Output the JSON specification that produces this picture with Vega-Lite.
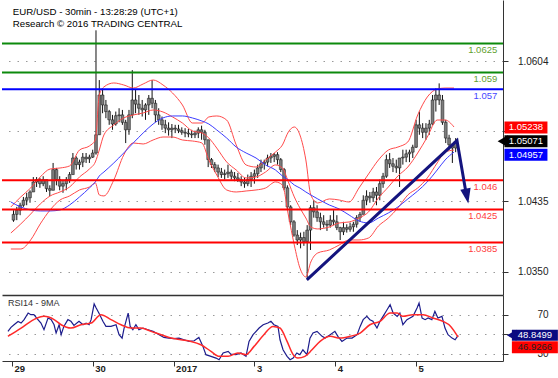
{
"$schema": "https://vega.github.io/schema/vega-lite/v6.json",
"background": "white",
"padding": {"left": 1, "top": 0, "right": 0, "bottom": 0},
"spacing": 0,
"config": {
 "font": "Liberation Sans",
 "view": {"stroke": null}
},
"datasets": {
 "candles": [
  {"h":-1,"o":1.0412,"hi":1.0424,"lo":1.0410,"c":1.0419},{"h":0,"o":1.0419,"hi":1.0428,"lo":1.0412,"c":1.0424},{"h":1,"o":1.0424,"hi":1.0433,"lo":1.0418,"c":1.0430},{"h":2,"o":1.0430,"hi":1.0440,"lo":1.0428,"c":1.0436},{"h":3,"o":1.0436,"hi":1.0445,"lo":1.0430,"c":1.0439},{"h":4,"o":1.0439,"hi":1.0448,"lo":1.0433,"c":1.0446},{"h":5,"o":1.0446,"hi":1.0464,"lo":1.0446,"c":1.0458},{"h":6,"o":1.0458,"hi":1.0464,"lo":1.0452,"c":1.0461},{"h":7,"o":1.0461,"hi":1.0463,"lo":1.0451,"c":1.0456},{"h":8,"o":1.0456,"hi":1.0465,"lo":1.0453,"c":1.0461},
  {"h":9,"o":1.0461,"hi":1.0461,"lo":1.0446,"c":1.0450},{"h":10,"o":1.0450,"hi":1.0454,"lo":1.0441,"c":1.0448},{"h":11,"o":1.0448,"hi":1.0481,"lo":1.0448,"c":1.0473},{"h":12,"o":1.0473,"hi":1.0475,"lo":1.0454,"c":1.0461},{"h":13,"o":1.0461,"hi":1.0465,"lo":1.0448,"c":1.0453},{"h":14,"o":1.0453,"hi":1.0461,"lo":1.0445,"c":1.0456},{"h":15,"o":1.0456,"hi":1.0464,"lo":1.0448,"c":1.0461},{"h":16,"o":1.0461,"hi":1.0470,"lo":1.0457,"c":1.0467},{"h":17,"o":1.0467,"hi":1.0493,"lo":1.0467,"c":1.0487},{"h":18,"o":1.0487,"hi":1.0489,"lo":1.0473,"c":1.0479},
  {"h":19,"o":1.0479,"hi":1.0485,"lo":1.0473,"c":1.0482},{"h":20,"o":1.0482,"hi":1.0493,"lo":1.0476,"c":1.0488},{"h":21,"o":1.0488,"hi":1.0493,"lo":1.0481,"c":1.0486},{"h":22,"o":1.0486,"hi":1.0491,"lo":1.0481,"c":1.0488},{"h":23,"o":1.0488,"hi":1.0497,"lo":1.0487,"c":1.0493},{"h":24,"o":1.0493,"hi":1.0641,"lo":1.0491,"c":1.0515},{"h":25,"o":1.0515,"hi":1.0581,"lo":1.0515,"c":1.0563},{"h":26,"o":1.0563,"hi":1.0571,"lo":1.0541,"c":1.0551},{"h":27,"o":1.0551,"hi":1.0557,"lo":1.0535,"c":1.0543},{"h":28,"o":1.0543,"hi":1.0545,"lo":1.0527,"c":1.0533},
  {"h":29,"o":1.0533,"hi":1.0539,"lo":1.0521,"c":1.0528},{"h":30,"o":1.0528,"hi":1.0543,"lo":1.0526,"c":1.0538},{"h":31,"o":1.0538,"hi":1.0547,"lo":1.0530,"c":1.0539},{"h":32,"o":1.0539,"hi":1.0545,"lo":1.0527,"c":1.0530},{"h":33,"o":1.0530,"hi":1.0533,"lo":1.0505,"c":1.0521},{"h":34,"o":1.0521,"hi":1.0545,"lo":1.0515,"c":1.0539},{"h":35,"o":1.0539,"hi":1.0593,"lo":1.0535,"c":1.0557},{"h":36,"o":1.0557,"hi":1.0569,"lo":1.0541,"c":1.0552},{"h":37,"o":1.0552,"hi":1.0563,"lo":1.0539,"c":1.0547},{"h":38,"o":1.0547,"hi":1.0557,"lo":1.0537,"c":1.0545},
  {"h":39,"o":1.0545,"hi":1.0553,"lo":1.0533,"c":1.0551},{"h":40,"o":1.0551,"hi":1.0563,"lo":1.0539,"c":1.0559},{"h":41,"o":1.0559,"hi":1.0581,"lo":1.0547,"c":1.0553},{"h":42,"o":1.0553,"hi":1.0557,"lo":1.0530,"c":1.0539},{"h":43,"o":1.0539,"hi":1.0547,"lo":1.0527,"c":1.0533},{"h":44,"o":1.0533,"hi":1.0537,"lo":1.0521,"c":1.0527},{"h":45,"o":1.0527,"hi":1.0533,"lo":1.0517,"c":1.0523},{"h":46,"o":1.0523,"hi":1.0530,"lo":1.0514,"c":1.0521},{"h":47,"o":1.0521,"hi":1.0528,"lo":1.0511,"c":1.0523},{"h":48,"o":1.0523,"hi":1.0527,"lo":1.0517,"c":1.0522},
  {"h":49,"o":1.0522,"hi":1.0527,"lo":1.0517,"c":1.0520},{"h":50,"o":1.0520,"hi":1.0524,"lo":1.0515,"c":1.0518},{"h":51,"o":1.0518,"hi":1.0523,"lo":1.0512,"c":1.0517},{"h":52,"o":1.0517,"hi":1.0522,"lo":1.0512,"c":1.0516},{"h":53,"o":1.0516,"hi":1.0521,"lo":1.0511,"c":1.0515},{"h":54,"o":1.0515,"hi":1.0520,"lo":1.0511,"c":1.0517},{"h":55,"o":1.0517,"hi":1.0524,"lo":1.0511,"c":1.0521},{"h":56,"o":1.0521,"hi":1.0526,"lo":1.0509,"c":1.0518},{"h":57,"o":1.0518,"hi":1.0521,"lo":1.0503,"c":1.0509},{"h":58,"o":1.0509,"hi":1.0509,"lo":1.0476,"c":1.0485},
  {"h":59,"o":1.0485,"hi":1.0487,"lo":1.0475,"c":1.0479},{"h":60,"o":1.0479,"hi":1.0482,"lo":1.0470,"c":1.0475},{"h":61,"o":1.0475,"hi":1.0479,"lo":1.0464,"c":1.0470},{"h":62,"o":1.0470,"hi":1.0475,"lo":1.0463,"c":1.0467},{"h":63,"o":1.0467,"hi":1.0473,"lo":1.0461,"c":1.0468},{"h":64,"o":1.0468,"hi":1.0479,"lo":1.0463,"c":1.0470},{"h":65,"o":1.0470,"hi":1.0473,"lo":1.0461,"c":1.0465},{"h":66,"o":1.0465,"hi":1.0470,"lo":1.0459,"c":1.0463},{"h":67,"o":1.0463,"hi":1.0469,"lo":1.0458,"c":1.0461},{"h":68,"o":1.0461,"hi":1.0465,"lo":1.0453,"c":1.0458},
  {"h":69,"o":1.0458,"hi":1.0463,"lo":1.0451,"c":1.0456},{"h":70,"o":1.0456,"hi":1.0467,"lo":1.0453,"c":1.0461},{"h":71,"o":1.0461,"hi":1.0470,"lo":1.0452,"c":1.0465},{"h":72,"o":1.0465,"hi":1.0473,"lo":1.0456,"c":1.0468},{"h":73,"o":1.0468,"hi":1.0479,"lo":1.0463,"c":1.0475},{"h":74,"o":1.0475,"hi":1.0485,"lo":1.0470,"c":1.0480},{"h":75,"o":1.0480,"hi":1.0485,"lo":1.0473,"c":1.0482},{"h":76,"o":1.0482,"hi":1.0491,"lo":1.0477,"c":1.0487},{"h":77,"o":1.0487,"hi":1.0493,"lo":1.0481,"c":1.0489},{"h":78,"o":1.0489,"hi":1.0493,"lo":1.0482,"c":1.0491},
  {"h":79,"o":1.0491,"hi":1.0494,"lo":1.0479,"c":1.0485},{"h":80,"o":1.0485,"hi":1.0487,"lo":1.0470,"c":1.0473},{"h":81,"o":1.0473,"hi":1.0475,"lo":1.0448,"c":1.0451},{"h":82,"o":1.0451,"hi":1.0454,"lo":1.0424,"c":1.0428},{"h":83,"o":1.0428,"hi":1.0430,"lo":1.0406,"c":1.0410},{"h":84,"o":1.0410,"hi":1.0412,"lo":1.0392,"c":1.0394},{"h":85,"o":1.0394,"hi":1.0400,"lo":1.0382,"c":1.0388},{"h":86,"o":1.0388,"hi":1.0397,"lo":1.0378,"c":1.0391},{"h":87,"o":1.0391,"hi":1.0398,"lo":1.0381,"c":1.0386},{"h":88,"o":1.0386,"hi":1.0406,"lo":1.0342,"c":1.0400},
  {"h":89,"o":1.0400,"hi":1.0430,"lo":1.0376,"c":1.0427},{"h":90,"o":1.0427,"hi":1.0436,"lo":1.0415,"c":1.0422},{"h":91,"o":1.0422,"hi":1.0430,"lo":1.0410,"c":1.0415},{"h":92,"o":1.0415,"hi":1.0421,"lo":1.0400,"c":1.0410},{"h":93,"o":1.0410,"hi":1.0418,"lo":1.0403,"c":1.0407},{"h":94,"o":1.0407,"hi":1.0412,"lo":1.0399,"c":1.0406},{"h":95,"o":1.0406,"hi":1.0418,"lo":1.0403,"c":1.0412},{"h":96,"o":1.0412,"hi":1.0424,"lo":1.0406,"c":1.0410},{"h":97,"o":1.0410,"hi":1.0418,"lo":1.0400,"c":1.0403},{"h":98,"o":1.0403,"hi":1.0404,"lo":1.0388,"c":1.0398},
  {"h":99,"o":1.0398,"hi":1.0410,"lo":1.0394,"c":1.0403},{"h":100,"o":1.0403,"hi":1.0407,"lo":1.0397,"c":1.0401},{"h":101,"o":1.0401,"hi":1.0409,"lo":1.0398,"c":1.0404},{"h":102,"o":1.0404,"hi":1.0410,"lo":1.0398,"c":1.0407},{"h":103,"o":1.0407,"hi":1.0418,"lo":1.0403,"c":1.0415},{"h":104,"o":1.0415,"hi":1.0422,"lo":1.0410,"c":1.0419},{"h":105,"o":1.0419,"hi":1.0442,"lo":1.0419,"c":1.0436},{"h":106,"o":1.0436,"hi":1.0448,"lo":1.0430,"c":1.0441},{"h":107,"o":1.0441,"hi":1.0446,"lo":1.0433,"c":1.0439},{"h":108,"o":1.0439,"hi":1.0451,"lo":1.0434,"c":1.0446},
  {"h":109,"o":1.0446,"hi":1.0452,"lo":1.0430,"c":1.0442},{"h":110,"o":1.0442,"hi":1.0461,"lo":1.0436,"c":1.0456},{"h":111,"o":1.0456,"hi":1.0469,"lo":1.0451,"c":1.0465},{"h":112,"o":1.0465,"hi":1.0491,"lo":1.0463,"c":1.0485},{"h":113,"o":1.0485,"hi":1.0493,"lo":1.0475,"c":1.0480},{"h":114,"o":1.0480,"hi":1.0487,"lo":1.0470,"c":1.0477},{"h":115,"o":1.0477,"hi":1.0485,"lo":1.0469,"c":1.0475},{"h":116,"o":1.0475,"hi":1.0487,"lo":1.0452,"c":1.0487},{"h":117,"o":1.0487,"hi":1.0497,"lo":1.0479,"c":1.0488},{"h":118,"o":1.0488,"hi":1.0497,"lo":1.0482,"c":1.0492},
  {"h":119,"o":1.0492,"hi":1.0497,"lo":1.0482,"c":1.0494},{"h":120,"o":1.0494,"hi":1.0503,"lo":1.0487,"c":1.0500},{"h":121,"o":1.0500,"hi":1.0533,"lo":1.0499,"c":1.0527},{"h":122,"o":1.0527,"hi":1.0543,"lo":1.0515,"c":1.0523},{"h":123,"o":1.0523,"hi":1.0529,"lo":1.0511,"c":1.0518},{"h":124,"o":1.0518,"hi":1.0529,"lo":1.0509,"c":1.0523},{"h":125,"o":1.0523,"hi":1.0533,"lo":1.0515,"c":1.0528},{"h":126,"o":1.0528,"hi":1.0563,"lo":1.0527,"c":1.0557},{"h":127,"o":1.0557,"hi":1.0571,"lo":1.0543,"c":1.0563},{"h":128,"o":1.0563,"hi":1.0577,"lo":1.0551,"c":1.0557},
  {"h":129,"o":1.0557,"hi":1.0563,"lo":1.0527,"c":1.0530},{"h":130,"o":1.0530,"hi":1.0533,"lo":1.0505,"c":1.0511},{"h":131,"o":1.0511,"hi":1.0515,"lo":1.0497,"c":1.0503},{"h":132,"o":1.0503,"hi":1.0505,"lo":1.0481,"c":1.0499},{"h":133,"o":1.0499,"hi":1.0511,"lo":1.0494,"c":1.05071}
 ],
 "bands": [
  {"h":-1.8,"up":1.04279,"mid":1.03965,"lo":1.03772,"ma":1.04339},{"h":1.2,"up":1.04400,"mid":1.04074,"lo":1.03772,"ma":1.04279},{"h":4.2,"up":1.04508,"mid":1.04194,"lo":1.03881,"ma":1.04243},{"h":7.1,"up":1.04641,"mid":1.04315,"lo":1.04074,"ma":1.04231},{"h":10.1,"up":1.04737,"mid":1.04412,"lo":1.04243,"ma":1.04231},{"h":13.1,"up":1.04749,"mid":1.04460,"lo":1.04363,"ma":1.04243},{"h":16.0,"up":1.04774,"mid":1.04520,"lo":1.04412,"ma":1.04303},{"h":19.0,"up":1.04966,"mid":1.04641,"lo":1.04484,"ma":1.04400},{"h":22.0,"up":1.05015,"mid":1.04737,"lo":1.04520,"ma":1.04508},{"h":23.8,"up":1.05087,"mid":1.04822,"lo":1.04569,"ma":1.04581},
  {"h":25.0,"up":1.05630,"mid":1.04966,"lo":1.04424,"ma":1.04653},{"h":26.4,"up":1.05727,"mid":1.05148,"lo":1.04412,"ma":1.04701},{"h":29.4,"up":1.05775,"mid":1.05268,"lo":1.04605,"ma":1.04810},{"h":32.4,"up":1.05751,"mid":1.05353,"lo":1.04906,"ma":1.04930},{"h":35.3,"up":1.05714,"mid":1.05389,"lo":1.05051,"ma":1.05051},{"h":38.3,"up":1.05763,"mid":1.05413,"lo":1.05039,"ma":1.05172},{"h":41.3,"up":1.05811,"mid":1.05449,"lo":1.05087,"ma":1.05280},{"h":44.3,"up":1.05751,"mid":1.05425,"lo":1.05123,"ma":1.05353},{"h":47.2,"up":1.05654,"mid":1.05365,"lo":1.05123,"ma":1.05377},{"h":50.2,"up":1.05509,"mid":1.05292,"lo":1.05087,"ma":1.05377},
  {"h":53.2,"up":1.05292,"mid":1.05196,"lo":1.05075,"ma":1.05353},{"h":56.1,"up":1.05292,"mid":1.05172,"lo":1.05051,"ma":1.05316},{"h":58.2,"up":1.05365,"mid":1.05111,"lo":1.04846,"ma":1.05280},{"h":60.6,"up":1.05377,"mid":1.04990,"lo":1.04665,"ma":1.05208},{"h":63.6,"up":1.05328,"mid":1.04822,"lo":1.04484,"ma":1.05111},{"h":66.5,"up":1.05027,"mid":1.04725,"lo":1.04460,"ma":1.05002},{"h":69.5,"up":1.04786,"mid":1.04629,"lo":1.04472,"ma":1.04930},{"h":72.5,"up":1.04761,"mid":1.04641,"lo":1.04484,"ma":1.04870},{"h":75.4,"up":1.04846,"mid":1.04701,"lo":1.04508,"ma":1.04786},{"h":78.4,"up":1.04942,"mid":1.04786,"lo":1.04581,"ma":1.04725},
  {"h":80.5,"up":1.05027,"mid":1.04749,"lo":1.04544,"ma":1.04653},{"h":82.3,"up":1.05184,"mid":1.04581,"lo":1.04182,"ma":1.04605},{"h":84.1,"up":1.05244,"mid":1.04400,"lo":1.03820,"ma":1.04544},{"h":85.8,"up":1.05148,"mid":1.04267,"lo":1.03543,"ma":1.04508},{"h":87.6,"up":1.04846,"mid":1.04146,"lo":1.03435,"ma":1.04460},{"h":89.1,"up":1.04424,"mid":1.04038,"lo":1.03615,"ma":1.04424},{"h":91.2,"up":1.04327,"mid":1.04014,"lo":1.03724,"ma":1.04376},{"h":94.7,"up":1.04376,"mid":1.04038,"lo":1.03760,"ma":1.04303},{"h":97.7,"up":1.04363,"mid":1.04086,"lo":1.03820,"ma":1.04255},{"h":100.7,"up":1.04339,"mid":1.04098,"lo":1.03881,"ma":1.04182},
  {"h":103.7,"up":1.04508,"mid":1.04146,"lo":1.03881,"ma":1.04110},{"h":106.6,"up":1.04677,"mid":1.04219,"lo":1.03905,"ma":1.04086},{"h":109.6,"up":1.04846,"mid":1.04388,"lo":1.04050,"ma":1.04146},{"h":112.6,"up":1.04966,"mid":1.04520,"lo":1.04146,"ma":1.04207},{"h":115.5,"up":1.05002,"mid":1.04653,"lo":1.04267,"ma":1.04279},{"h":118.5,"up":1.05063,"mid":1.04761,"lo":1.04424,"ma":1.04376},{"h":121.5,"up":1.05389,"mid":1.04930,"lo":1.04508,"ma":1.04472},{"h":124.4,"up":1.05606,"mid":1.05123,"lo":1.04629,"ma":1.04581},{"h":127.4,"up":1.05702,"mid":1.05328,"lo":1.04810,"ma":1.04725},{"h":129.8,"up":1.05714,"mid":1.05328,"lo":1.04942,"ma":1.04846},
  {"h":132.5,"up":1.05714,"mid":1.05244,"lo":1.04966,"ma":1.04942}
 ],
 "levels": [
  {"lv":1.0625,"k":"R"},{"lv":1.059,"k":"R"},{"lv":1.057,"k":"P"},{"lv":1.046,"k":"S"},{"lv":1.0425,"k":"S"},{"lv":1.0385,"k":"S"}
 ],
 "trend": [{"h":87.9,"p":1.0340},{"h":133.4,"p":1.0508},{"h":136.0,"p":1.0448}],
 "arrow": [{"h":136.4,"p":1.0441}],
 "pbadges": [{"v":1.05238,"k":"hi"},{"v":1.05071,"k":"last"},{"v":1.04957,"k":"lo"}],
 "rbadges": [{"v":48.8499,"k":"rsi"},{"v":46.9266,"k":"ma"}],
 "titles": [{"t":"EUR/USD - 30min - 13:28:29 (UTC+1)","n":1},{"t":"Research © 2016 TRADING CENTRAL","n":2},{"t":"RSI14 - 9MA","n":3}],
 "rsi": [
  {"h":-1.2,"r":52.9},{"h":-0.3,"r":57},{"h":0.6,"r":59.7},{"h":1.8,"r":63},{"h":2.7,"r":61.4},{"h":3.6,"r":64.9},{"h":4.8,"r":71.7},{"h":5.6,"r":70},{"h":6.5,"r":70},{"h":7.7,"r":65},{"h":8.6,"r":61.4},{"h":9.5,"r":54.6},{"h":10.7,"r":66.6},{"h":11.6,"r":65},{"h":12.5,"r":59.7},{"h":13.1,"r":51.2},{"h":14,"r":59.7},{"h":14.6,"r":49.5},{"h":15.4,"r":58},{"h":16.6,"r":64.9},{"h":17.5,"r":63.2},{"h":18.4,"r":59},{"h":19.9,"r":63.2},{"h":21.1,"r":59.7},{"h":22,"r":61.4},{"h":22.9,"r":59.7},{"h":23.5,"r":64.9},{"h":24.4,"r":81},{"h":25,"r":76.8},{"h":25.8,"r":71.7},
  {"h":27,"r":63.2},{"h":27.9,"r":58},{"h":29.4,"r":58},{"h":30.9,"r":59.7},{"h":31.8,"r":49.5},{"h":32.7,"r":46},{"h":33.3,"r":56.3},{"h":34.5,"r":71.7},{"h":35.1,"r":58},{"h":35.9,"r":54.6},{"h":36.8,"r":59.7},{"h":37.7,"r":54.6},{"h":38.9,"r":56.3},{"h":40.4,"r":54.6},{"h":41.9,"r":52.9},{"h":42.8,"r":51.2},{"h":43.7,"r":49.5},{"h":45.1,"r":46.7},{"h":46.6,"r":46},{"h":48.1,"r":45.4},{"h":49.6,"r":46},{"h":51.1,"r":44.3},{"h":52.6,"r":42.6},{"h":54.1,"r":43.3},{"h":55.5,"r":46.7},{"h":56.7,"r":37.5},{"h":57.6,"r":29},{"h":59.1,"r":27.3},{"h":60.6,"r":25.5},{"h":61.5,"r":23.8},
  {"h":62.7,"r":30.7},{"h":64.2,"r":32.4},{"h":65,"r":29.6},{"h":66.5,"r":29},{"h":68,"r":30.7},{"h":69.5,"r":27.3},{"h":70.4,"r":42.6},{"h":71.6,"r":49.5},{"h":72.5,"r":52.9},{"h":73.4,"r":56.3},{"h":74.6,"r":59.7},{"h":76,"r":61.4},{"h":76.9,"r":63.2},{"h":77.8,"r":59.7},{"h":79,"r":58},{"h":79.6,"r":44.3},{"h":80.5,"r":34},{"h":81.7,"r":27.3},{"h":82.6,"r":23.8},{"h":83.5,"r":25.5},{"h":84.6,"r":30.7},{"h":85.5,"r":29},{"h":86.4,"r":34},{"h":87.6,"r":29},{"h":88.5,"r":46},{"h":89.4,"r":51.2},{"h":90.6,"r":52.9},{"h":92.1,"r":47.8},{"h":93,"r":46},{"h":94.5,"r":49.5},
  {"h":95.9,"r":52.9},{"h":96.8,"r":47.8},{"h":98,"r":42.6},{"h":99.5,"r":46},{"h":101,"r":46},{"h":102.5,"r":49.5},{"h":103.4,"r":58},{"h":104.3,"r":64.9},{"h":105.4,"r":68.3},{"h":106.3,"r":64.9},{"h":107.2,"r":63.2},{"h":108.4,"r":56.3},{"h":109.3,"r":63.2},{"h":110.2,"r":68.3},{"h":111.4,"r":75.1},{"h":112.3,"r":80.3},{"h":113.2,"r":71.7},{"h":114.4,"r":68.3},{"h":115.2,"r":71.7},{"h":116.1,"r":59.7},{"h":117.3,"r":64.9},{"h":118.2,"r":66.6},{"h":119.1,"r":68.3},{"h":120.3,"r":76.8},{"h":120.9,"r":82},{"h":121.8,"r":66.6},{"h":122.7,"r":64.9},{"h":123.6,"r":66.6},{"h":124.7,"r":64.9},{"h":125.6,"r":73.4},
  {"h":126.5,"r":66.6},{"h":127.7,"r":68.3},{"h":128.6,"r":56.3},{"h":129.5,"r":49.5},{"h":130.7,"r":46},{"h":131.6,"r":44.3},{"h":132.5,"r":48.85}
 ],
 "rsima": [
  {"h":-1.2,"m":47.8},{"h":2.7,"m":56.3},{"h":6.5,"m":65},{"h":9.5,"m":68.3},{"h":12.5,"m":65},{"h":14.6,"m":59.7},{"h":17.5,"m":56.3},{"h":20.5,"m":59.7},{"h":23.5,"m":61.4},{"h":26.4,"m":70},{"h":29.4,"m":65},{"h":32.4,"m":59.7},{"h":35.3,"m":56.3},{"h":38.3,"m":56.3},{"h":41.3,"m":52.9},{"h":44.3,"m":49.5},{"h":47.2,"m":46},{"h":50.2,"m":44.3},{"h":53.2,"m":42.6},{"h":56.1,"m":39.2},{"h":59.1,"m":32.4},{"h":61.5,"m":27.3},{"h":64.2,"m":27.3},{"h":67.1,"m":30.7},{"h":69.5,"m":29},
  {"h":71.9,"m":37.5},{"h":74.8,"m":49.5},{"h":77.5,"m":58},{"h":79.6,"m":56.3},{"h":81.7,"m":42.6},{"h":83.5,"m":29},{"h":84.9,"m":25.5},{"h":87,"m":27.3},{"h":89.1,"m":34},{"h":91.5,"m":42.6},{"h":94.5,"m":47.8},{"h":97.4,"m":46},{"h":100.4,"m":47.8},{"h":103.4,"m":51.2},{"h":106.3,"m":59.7},{"h":109.3,"m":63.2},{"h":112.3,"m":71.7},{"h":114.4,"m":71.7},{"h":116.1,"m":68.3},{"h":119.1,"m":70},{"h":122.1,"m":70},{"h":125,"m":66.6},{"h":128,"m":63.2},{"h":130.3,"m":58},{"h":132.5,"m":46.93}
 ]
},
"vconcat": [
 {
  "width": 501, "height": 295,
  "resolve": {"axis": {"x": "independent", "y": "independent"}},
  "layer": [
   {"data": {"name": "candles"}, "mark": {"type": "rule", "color": "#111", "strokeWidth": 1},
    "encoding": {
     "x": {"field": "h", "type": "quantitative", "scale": {"domain": [-2.97, 145.83], "nice": false, "zero": false}, "axis": null},
     "y": {"field": "lo", "type": "quantitative", "scale": {"domain": [1.03217, 1.06776], "nice": false, "zero": false},
       "axis": {"orient": "right", "values": [1.035, 1.0435, 1.0519, 1.0604], "labelExpr": "datum.value > 1.05 && datum.value < 1.055 ? '' : format(datum.value, '.4f')", "grid": true, "gridColor": "#9a9a9a", "gridDash": [1.5, 7], "gridWidth": 1.2, "tickSize": 5, "tickColor": "#333", "domainColor": "#333", "labelPadding": 40, "labelAlign": "right", "labelFontSize": 10, "labelColor": "#222", "title": null}},
     "y2": {"field": "hi"}}},
   {"data": {"name": "candles"}, "mark": {"type": "bar", "width": 2.8, "fill": "#7c7c7c", "stroke": "#111", "strokeWidth": 0.5},
    "encoding": {
     "x": {"field": "h", "type": "quantitative", "axis": null},
     "y": {"field": "o", "type": "quantitative", "axis": null},
     "y2": {"field": "c"}}},
   {"data": {"name": "bands"}, "mark": {"type": "line", "color": "#ff4a4a", "strokeWidth": 1, "interpolate": "monotone"},
    "encoding": {"x": {"field": "h", "type": "quantitative", "axis": null}, "y": {"field": "up", "type": "quantitative", "axis": null}}},
   {"data": {"name": "bands"}, "mark": {"type": "line", "color": "#ff4a4a", "strokeWidth": 1, "interpolate": "monotone"},
    "encoding": {"x": {"field": "h", "type": "quantitative", "axis": null}, "y": {"field": "mid", "type": "quantitative", "axis": null}}},
   {"data": {"name": "bands"}, "mark": {"type": "line", "color": "#ff4a4a", "strokeWidth": 1, "interpolate": "monotone"},
    "encoding": {"x": {"field": "h", "type": "quantitative", "axis": null}, "y": {"field": "lo", "type": "quantitative", "axis": null}}},
   {"data": {"name": "bands"}, "mark": {"type": "line", "color": "#3c3cff", "strokeWidth": 1, "interpolate": "monotone"},
    "encoding": {"x": {"field": "h", "type": "quantitative", "axis": null}, "y": {"field": "ma", "type": "quantitative", "axis": null}}},
   {"data": {"name": "levels"}, "transform": [{"filter": "datum.k == 'R'"}], "mark": {"type": "rule", "strokeWidth": 2, "color": "#0c8a0c"},
    "encoding": {"y": {"field": "lv", "type": "quantitative", "axis": null}}},
   {"data": {"name": "levels"}, "transform": [{"filter": "datum.k == 'P'"}], "mark": {"type": "rule", "strokeWidth": 2, "color": "#0000ff"},
    "encoding": {"y": {"field": "lv", "type": "quantitative", "axis": null}}},
   {"data": {"name": "levels"}, "transform": [{"filter": "datum.k == 'S'"}], "mark": {"type": "rule", "strokeWidth": 2, "color": "#ff0000"},
    "encoding": {"y": {"field": "lv", "type": "quantitative", "axis": null}}},
   {"data": {"name": "levels"}, "transform": [{"filter": "datum.k == 'R'"}], "mark": {"type": "text", "align": "right", "baseline": "middle", "dy": 6.5, "fontSize": 9.5, "color": "#5f9f2f"},
    "encoding": {"x": {"datum": 145.6, "type": "quantitative", "axis": null}, "y": {"field": "lv", "type": "quantitative", "axis": null},
     "text": {"field": "lv", "type": "quantitative", "format": ".4~f"}}},
   {"data": {"name": "levels"}, "transform": [{"filter": "datum.k == 'P'"}], "mark": {"type": "text", "align": "right", "baseline": "middle", "dy": 6.5, "fontSize": 9.5, "color": "#4646ff"},
    "encoding": {"x": {"datum": 145.6, "type": "quantitative", "axis": null}, "y": {"field": "lv", "type": "quantitative", "axis": null},
     "text": {"field": "lv", "type": "quantitative", "format": ".4~f"}}},
   {"data": {"name": "levels"}, "transform": [{"filter": "datum.k == 'S'"}], "mark": {"type": "text", "align": "right", "baseline": "middle", "dy": 6.5, "fontSize": 9.5, "color": "#ff3c3c"},
    "encoding": {"x": {"datum": 145.6, "type": "quantitative", "axis": null}, "y": {"field": "lv", "type": "quantitative", "axis": null},
     "text": {"field": "lv", "type": "quantitative", "format": ".4~f"}}},
   {"data": {"name": "trend"}, "mark": {"type": "line", "color": "#14147e", "strokeWidth": 3, "strokeJoin": "miter"},
    "encoding": {"x": {"field": "h", "type": "quantitative", "axis": null}, "y": {"field": "p", "type": "quantitative", "axis": null}}},
   {"data": {"name": "arrow"}, "mark": {"type": "point", "shape": "M-0.7,-1L0.7,-1L0,1Z", "filled": true, "size": 225, "angle": 349, "color": "#14147e", "opacity": 1},
    "encoding": {"x": {"field": "h", "type": "quantitative", "axis": null}, "y": {"field": "p", "type": "quantitative", "axis": null}}},
   {"data": {"name": "pbadges"}, "transform": [{"filter": "datum.k == 'hi'"}], "mark": {"type": "tick", "orient": "horizontal", "size": 43, "thickness": 12, "color": "#ff0000", "opacity": 1},
    "encoding": {"x": {"datum": 154.3, "type": "quantitative", "axis": null}, "y": {"field": "v", "type": "quantitative", "axis": null}}},
   {"data": {"name": "pbadges"}, "transform": [{"filter": "datum.k == 'lo'"}], "mark": {"type": "tick", "orient": "horizontal", "size": 43, "thickness": 12, "color": "#0000ff", "opacity": 1, "yOffset": 4},
    "encoding": {"x": {"datum": 154.3, "type": "quantitative", "axis": null}, "y": {"field": "v", "type": "quantitative", "axis": null}}},
   {"data": {"name": "pbadges"}, "transform": [{"filter": "datum.k == 'last'"}], "mark": {"type": "tick", "orient": "horizontal", "size": 43, "thickness": 12, "color": "#000000", "opacity": 1},
    "encoding": {"x": {"datum": 154.3, "type": "quantitative", "axis": null}, "y": {"field": "v", "type": "quantitative", "axis": null}}},
   {"data": {"name": "pbadges"}, "transform": [{"filter": "datum.k == 'last'"}], "mark": {"type": "point", "shape": "triangle-left", "filled": true, "size": 144, "color": "#000000", "opacity": 1},
    "encoding": {"x": {"datum": 147.3, "type": "quantitative", "axis": null}, "y": {"field": "v", "type": "quantitative", "axis": null}}},
   {"data": {"name": "pbadges"}, "transform": [{"filter": "datum.k != 'lo'"}], "mark": {"type": "text", "color": "white", "fontSize": 9.5, "align": "center", "baseline": "middle"},
    "encoding": {"x": {"datum": 154.3, "type": "quantitative", "axis": null}, "y": {"field": "v", "type": "quantitative", "axis": null}, "text": {"field": "v", "type": "quantitative", "format": ".5f"}}},
   {"data": {"name": "pbadges"}, "transform": [{"filter": "datum.k == 'lo'"}], "mark": {"type": "text", "color": "white", "fontSize": 9.5, "align": "center", "baseline": "middle", "dy": 4},
    "encoding": {"x": {"datum": 154.3, "type": "quantitative", "axis": null}, "y": {"field": "v", "type": "quantitative", "axis": null}, "text": {"field": "v", "type": "quantitative", "format": ".5f"}}},
   {"data": {"name": "titles"}, "transform": [{"filter": "datum.n == 1"}],
    "mark": {"type": "text", "align": "left", "baseline": "middle", "fontSize": 9.7, "color": "#000"},
    "encoding": {"x": {"datum": -1.2, "type": "quantitative", "axis": null}, "y": {"datum": 1.06635, "type": "quantitative", "axis": null}, "text": {"field": "t", "type": "nominal"}}},
   {"data": {"name": "titles"}, "transform": [{"filter": "datum.n == 2"}],
    "mark": {"type": "text", "align": "left", "baseline": "middle", "fontSize": 9.7, "color": "#000"},
    "encoding": {"x": {"datum": -1.2, "type": "quantitative", "axis": null}, "y": {"datum": 1.06487, "type": "quantitative", "axis": null}, "text": {"field": "t", "type": "nominal"}}}
  ]
 },
 {
  "width": 501, "height": 66,
  "resolve": {"axis": {"x": "independent", "y": "independent"}},
  "layer": [
   {"data": {"name": "rsi"}, "mark": {"type": "line", "color": "#1c1c8c", "strokeWidth": 1.2},
    "encoding": {
     "x": {"field": "h", "type": "quantitative", "scale": {"domain": [-2.97, 145.83], "nice": false, "zero": false},
       "axis": {"values": [0, 24, 48, 72, 96, 120], "labelExpr": "datum.value == 0 ? '29' : datum.value == 24 ? '30' : datum.value == 48 ? '2017' : datum.value == 72 ? '3' : datum.value == 96 ? '4' : '5'",
         "grid": false, "domain": true, "domainColor": "#333", "tickSize": 5, "tickColor": "#333", "labelAlign": "left", "labelOffset": 2, "labelBaseline": "middle", "labelPadding": 2.5, "labelFlush": false, "labelOverlap": false, "labelFontSize": 9.5, "labelColor": "#222",
         "labelFontWeight": "bold", "title": null}},
     "y": {"field": "r", "type": "quantitative", "scale": {"domain": [22.5, 90.2], "nice": false, "zero": false},
       "axis": {"orient": "right", "values": [30, 50, 70], "labelExpr": "datum.value == 50 ? '' : datum.label", "grid": true, "gridColor": "#9a9a9a", "gridDash": [1.5, 7], "gridWidth": 1.2, "tickSize": 5, "tickColor": "#333", "domainColor": "#333", "labelPadding": 40, "labelAlign": "right", "labelFontSize": 10, "labelColor": "#222", "title": null}}}},
   {"data": {"name": "rsima"}, "mark": {"type": "line", "color": "#ff2a2a", "strokeWidth": 1.5, "interpolate": "monotone"},
    "encoding": {"x": {"field": "h", "type": "quantitative", "axis": {"orient": "top", "labels": false, "ticks": false, "grid": false, "domain": true, "domainColor": "#333", "domainWidth": 1.3, "title": null}}, "y": {"field": "m", "type": "quantitative", "axis": null}}},
   {"data": {"name": "rbadges"}, "transform": [{"filter": "datum.k == 'ma'"}], "mark": {"type": "tick", "orient": "horizontal", "size": 46, "thickness": 12, "color": "#ff0000", "opacity": 1, "yOffset": 10},
    "encoding": {"x": {"datum": 155.3, "type": "quantitative", "axis": null}, "y": {"field": "v", "type": "quantitative", "axis": null}}},
   {"data": {"name": "rbadges"}, "transform": [{"filter": "datum.k == 'rsi'"}], "mark": {"type": "tick", "orient": "horizontal", "size": 46, "thickness": 11, "color": "#0a0a80", "opacity": 1},
    "encoding": {"x": {"datum": 155.3, "type": "quantitative", "axis": null}, "y": {"field": "v", "type": "quantitative", "axis": null}}},
   {"data": {"name": "rbadges"}, "transform": [{"filter": "datum.k == 'rsi'"}], "mark": {"type": "point", "shape": "triangle-left", "filled": true, "size": 121, "color": "#0a0a80", "opacity": 1},
    "encoding": {"x": {"datum": 148.4, "type": "quantitative", "axis": null}, "y": {"field": "v", "type": "quantitative", "axis": null}}},
   {"data": {"name": "rbadges"}, "transform": [{"filter": "datum.k == 'rsi'"}], "mark": {"type": "text", "color": "white", "fontSize": 9.5, "align": "center", "baseline": "middle"},
    "encoding": {"x": {"datum": 155.3, "type": "quantitative", "axis": null}, "y": {"field": "v", "type": "quantitative", "axis": null}, "text": {"field": "v", "type": "quantitative", "format": ".4f"}}},
   {"data": {"name": "rbadges"}, "transform": [{"filter": "datum.k == 'ma'"}], "mark": {"type": "text", "color": "#222", "fontSize": 9.5, "align": "center", "baseline": "middle", "dy": 10},
    "encoding": {"x": {"datum": 155.3, "type": "quantitative", "axis": null}, "y": {"field": "v", "type": "quantitative", "axis": null}, "text": {"field": "v", "type": "quantitative", "format": ".4f"}}},
   {"data": {"name": "titles"}, "transform": [{"filter": "datum.n == 3"}], "mark": {"type": "text", "align": "left", "baseline": "middle", "fontSize": 9, "color": "#333"},
    "encoding": {"x": {"datum": -1.2, "type": "quantitative", "axis": null}, "y": {"datum": 82, "type": "quantitative", "axis": null}, "text": {"field": "t", "type": "nominal"}}}
  ]
 }
]
}
